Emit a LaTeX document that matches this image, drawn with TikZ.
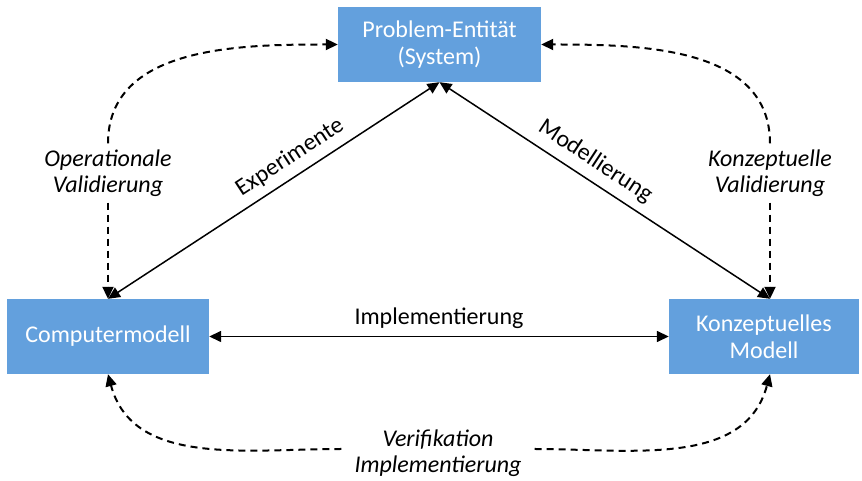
\documentclass[tikz,border=0pt]{standalone}
\usepackage{fontspec}
\setmainfont{Carlito}
\usetikzlibrary{arrows.meta,positioning,calc}
\definecolor{boxblue}{RGB}{99,160,221}

\begin{document}
\begin{tikzpicture}[
  x=1pt, y=1pt,
  >={Triangle[length=12pt,width=11pt]},
  box/.style={fill=boxblue, text=white, align=center, inner sep=0pt, minimum height=75pt, font=\fontsize{24}{27}\selectfont},
  lbl/.style={align=center, inner sep=6pt, font=\fontsize{24}{26}\selectfont\itshape},
  tag/.style={inner sep=2pt, font=\fontsize{24}{26}\selectfont},
  flow/.style={line width=1.5pt},
  check/.style={line width=2pt, dash pattern=on 7pt off 5pt}
]
\useasboundingbox (0,0) rectangle (862,481);
\node[box, minimum width=203pt] (sys) at (439.5,436.5) {Problem-Entität\\(System)};
\node[box, minimum width=202pt] (comp) at (108,144.5) {Computermodell};
\node[box, minimum width=190pt] (konz) at (764,144.5) {Konzeptuelles\\Modell};
\node[lbl] (opval) at (108,308) {Operationale\\Validierung};
\node[lbl] (konval) at (770,308) {Konzeptuelle\\Validierung};
\node[lbl] (verif) at (438,28) {Verifikation\\Implementierung};
% solid connectors
\draw[flow, <->] (comp.north) -- node[tag, pos=0.58, sloped, above=6pt] {Experimente} (sys.south);
\draw[flow, <->] (sys.south) -- node[tag, pos=0.44, sloped, above=6pt] {Modellierung} (konval.south |- konz.north);
\draw[flow, <->] (comp.east) -- node[tag, above=5pt] {Implementierung} (konz.west);
% dashed connectors
\draw[check, ->] (opval.north) to[out=90, in=180] (sys.west);
\draw[check, ->] (opval.south) -- (comp.north);
\draw[check, ->] (konval.north) to[out=90, in=0] (sys.east);
\draw[check, ->] (konval.south) -- (konval.south |- konz.north);
\draw[check, ->] ([shift={(-7pt,4pt)}]verif.west) to[out=180, in=-75] (comp.south);
\draw[check, ->] ([shift={(7pt,4pt)}]verif.east) to[out=0, in=-105] (konval.south |- konz.south);
\end{tikzpicture}
\end{document}
